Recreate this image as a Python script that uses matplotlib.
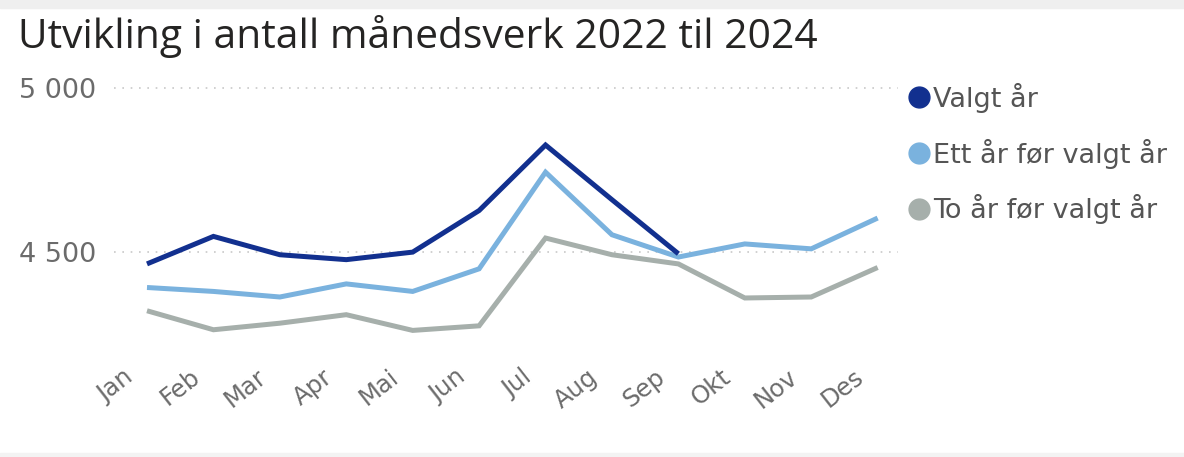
import numpy as np
import matplotlib.pyplot as plt
from matplotlib.transforms import ScaledTranslation

months = ['Jan', 'Feb', 'Mar', 'Apr', 'Mai', 'Jun', 'Jul', 'Aug', 'Sep', 'Okt', 'Nov', 'Des']

# Values
valgt_aar = [4463, 4547, 4491, 4476, 4499, 4626, 4826, 4659, 4494]
ett_aar_for = [4391, 4379, 4362, 4402, 4379, 4448, 4743, 4552, 4484, 4524, 4509, 4603]
to_aar_for = [4320, 4262, 4282, 4308, 4260, 4274, 4542, 4491, 4463, 4359, 4362, 4452]

series_names = ['Valgt år', 'Ett år før valgt år', 'To år før valgt år']
series_colors = ['#12308F', '#7AB2DE', '#A6AFAB']

plt.rcParams['font.family'] = ['DejaVu Sans']

fig = plt.figure(figsize=(11.84, 4.57), dpi=100)
fig.patch.set_facecolor('white')

# light grey strips at the top and bottom edges
fig.patches.append(plt.Rectangle((0, 1 - 8/457), 1, 8/457, transform=fig.transFigure,
                                 color='#EFEFEF', zorder=0))
fig.patches.append(plt.Rectangle((0, 0), 1, 4/457, transform=fig.transFigure,
                                 color='#F3F3F3', zorder=0))

ax = fig.add_axes([0.0961, 0.234, 0.662, 0.5806])

x = np.arange(len(months))
data = [valgt_aar, ett_aar_for, to_aar_for]
for vals, name, col in zip(data[::-1], series_names[::-1], series_colors[::-1]):
    ax.plot(x[:len(vals)], vals, color=col, linewidth=3.6, label=name,
            solid_joinstyle='miter', solid_capstyle='butt')

ax.set_xlim(-0.5, 11.3)
ax.set_ylim(4200, 5010)

ax.set_yticks([4500, 5000])
ax.set_yticklabels(['4 500', '5 000'])
ax.tick_params(axis='y', length=0, pad=68, labelsize=19.5, labelcolor='#6B6B6B')
for lbl in ax.get_yticklabels():
    lbl.set_horizontalalignment('left')

ax.set_xticks(x)
ax.set_xticklabels(months, rotation=38, ha='right', rotation_mode='anchor')
ax.tick_params(axis='x', length=0, pad=10, labelsize=17.5, labelcolor='#6B6B6B')
# month labels sit a little left of their tick, as in the reference
shift = ScaledTranslation(-0.24, -0.01, fig.dpi_scale_trans)
for lbl in ax.get_xticklabels():
    lbl.set_transform(lbl.get_transform() + shift)

ax.grid(axis='y', linestyle=(0, (1, 4)), color='#C8C8C8', linewidth=1.2)
ax.set_axisbelow(True)
for s in ax.spines.values():
    s.set_visible(False)

fig.text(18/1184, 1 - 37/457, 'Utvikling i antall månedsverk 2022 til 2024',
         fontsize=29.3, color='#252423', va='center', ha='left',
         family=['Open Sans', 'DejaVu Sans'])

# legend
handles = [plt.Line2D([], [], marker='o', linestyle='none', markersize=15,
                      markerfacecolor=c, markeredgecolor=c) for c in series_colors]
fig.legend(handles, series_names, loc='upper left', bbox_to_anchor=(895/1184, 1 - 72/457),
           frameon=False, fontsize=19.5, labelcolor='#555555', handletextpad=0.0,
           labelspacing=0.95, handlelength=1.0, borderaxespad=0)

fig.savefig('out.png', dpi=100)
